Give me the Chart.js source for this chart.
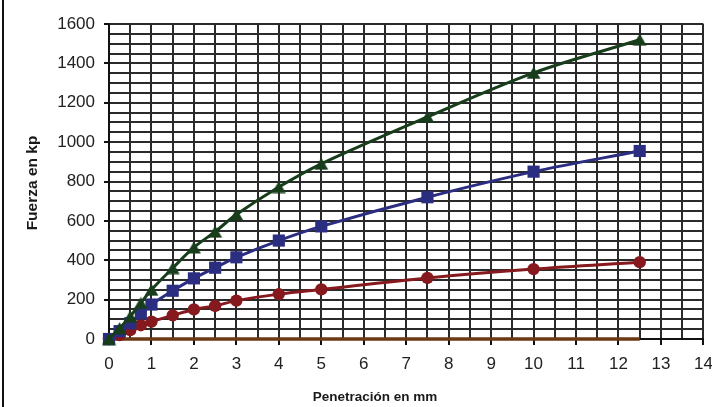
<!DOCTYPE html>
<html>
<head>
<meta charset="utf-8">
<script src="https://cdn.jsdelivr.net/npm/chart.js@4/dist/chart.umd.min.js"></script>
<style>
  html, body { margin: 0; padding: 0; background: #fff; }
  canvas { display: block; }
</style>
</head>
<body>
<canvas id="grafico" width="712" height="407"></canvas>
<script>
// Penetración (mm) y fuerza (kp) de cada ensayo
const penetracion = [0, 0.25, 0.5, 0.75, 1, 1.5, 2, 2.5, 3, 4, 5, 7.5, 10, 12.5];
const fuerzaVerde = [0, 55, 115, 183, 250, 360, 465, 545, 632, 772, 890, 1128, 1352, 1520];
const fuerzaAzul  = [0, 40, 80, 130, 175, 245, 308, 362, 415, 500, 572, 720, 850, 955];
const fuerzaRoja  = [0, 20, 45, 70, 88, 120, 150, 168, 195, 228, 252, 310, 355, 390];
const fuerzaBase  = [0, 0, 0, 0, 0, 0, 0, 0, 0, 0, 0, 0, 0, 0];

const etiquetasX = [0, 1, 2, 3, 4, 5, 6, 7, 8, 9, 10, 11, 12, 13, 14];
const etiquetasY = [0, 200, 400, 600, 800, 1000, 1200, 1400, 1600];

const tituloX = 'Penetración en mm';
const tituloY = 'Fuerza en kp';

const VERDE = '#173d1b';
const AZUL = '#2b2e80';
const ROJO = '#86191d';
const MARRON = '#6b3812';

function puntos(valores) {
  return penetracion.map((x, i) => ({ x: x, y: valores[i] }));
}

// Triángulo centrado en su caja, como marcador
function marcadorTriangulo(color) {
  const c = document.createElement('canvas');
  c.width = 15; c.height = 13;
  const g = c.getContext('2d');
  g.fillStyle = color;
  g.beginPath();
  g.moveTo(7.5, 0.5);
  g.lineTo(14.5, 12.5);
  g.lineTo(0.5, 12.5);
  g.closePath();
  g.fill();
  return c;
}

// Marco a la izquierda y títulos de los ejes
const decoracion = {
  id: 'decoracion',
  beforeDraw(chart) {
    const ctx = chart.ctx;
    ctx.save();
    ctx.fillStyle = '#fff';
    ctx.fillRect(0, 0, chart.width, chart.height);
    ctx.restore();
  },
  afterDraw(chart) {
    const ctx = chart.ctx;
    ctx.save();
    ctx.strokeStyle = '#111';
    ctx.lineWidth = 2;
    ctx.beginPath();
    ctx.moveTo(3, 0);
    ctx.lineTo(3, chart.height);
    ctx.stroke();

    ctx.fillStyle = '#1a1a1a';
    ctx.textAlign = 'center';
    ctx.textBaseline = 'middle';
    ctx.font = 'bold 13.5px "Liberation Sans", Arial, sans-serif';
    ctx.fillText(tituloX, 375, 397);

    ctx.translate(33, 183);
    ctx.rotate(-Math.PI / 2);
    ctx.font = 'bold 15.5px "Liberation Sans", Arial, sans-serif';
    ctx.fillText(tituloY, 0, 0);
    ctx.restore();
  }
};

const GRID = '#2a2a2a';

new Chart(document.getElementById('grafico'), {
  type: 'line',
  data: {
    datasets: [
      {
        label: 'Serie verde',
        data: puntos(fuerzaVerde),
        borderColor: VERDE,
        backgroundColor: VERDE,
        borderWidth: 3,
        pointStyle: marcadorTriangulo(VERDE),
        tension: 0.35,
        clip: false,
        order: 1
      },
      {
        label: 'Serie azul',
        data: puntos(fuerzaAzul),
        borderColor: AZUL,
        backgroundColor: AZUL,
        borderWidth: 3,
        pointStyle: 'rect',
        pointRadius: 8.6,
        pointBorderWidth: 0,
        tension: 0.35,
        clip: false,
        order: 2
      },
      {
        label: 'Serie roja',
        data: puntos(fuerzaRoja),
        borderColor: ROJO,
        backgroundColor: ROJO,
        borderWidth: 3,
        pointStyle: 'circle',
        pointRadius: 6.2,
        pointBorderWidth: 0,
        tension: 0.35,
        clip: false,
        order: 3
      },
      {
        label: 'Serie base',
        data: puntos(fuerzaBase),
        borderColor: MARRON,
        backgroundColor: MARRON,
        borderWidth: 3.5,
        pointRadius: 0,
        tension: 0,
        clip: false,
        order: 4
      }
    ]
  },
  options: {
    responsive: false,
    animation: false,
    devicePixelRatio: 1,
    layout: { padding: { left: 0, right: 7, top: 24, bottom: 0 } },
    plugins: {
      legend: { display: false },
      tooltip: { enabled: false }
    },
    scales: {
      x: {
        type: 'linear',
        min: 0,
        max: 14,
        afterFit(scale) {
          scale.height = 68;
          scale.paddingLeft = 0;
          scale.paddingRight = 0;
        },
        ticks: {
          stepSize: 0.5,
          autoSkip: false,
          maxRotation: 0,
          padding: 9,
          color: '#222',
          font: { family: '"Liberation Sans", Arial, sans-serif', size: 17 },
          callback: (v) => etiquetasX.includes(v) ? String(v) : ''
        },
        grid: {
          color: GRID,
          lineWidth: 2,
          tickLength: 6,
          tickColor: (c) => (c.tick && etiquetasX.includes(c.tick.value)) ? '#111' : 'rgba(0,0,0,0)'
        },
        border: { color: '#111', width: 2 }
      },
      y: {
        type: 'linear',
        min: 0,
        max: 1600,
        afterFit(scale) {
          scale.width = 109;
          scale.paddingTop = 0;
          scale.paddingBottom = 0;
        },
        ticks: {
          stepSize: 50,
          autoSkip: false,
          padding: 9,
          color: '#222',
          font: { family: '"Liberation Sans", Arial, sans-serif', size: 17 },
          callback: (v) => etiquetasY.includes(v) ? String(v) : ''
        },
        grid: {
          color: GRID,
          lineWidth: 2,
          tickLength: 5,
          tickColor: (c) => (c.tick && etiquetasY.includes(c.tick.value)) ? '#111' : 'rgba(0,0,0,0)'
        },
        border: { color: '#111', width: 2 }
      }
    }
  },
  plugins: [decoracion]
});
</script>
</body>
</html>
